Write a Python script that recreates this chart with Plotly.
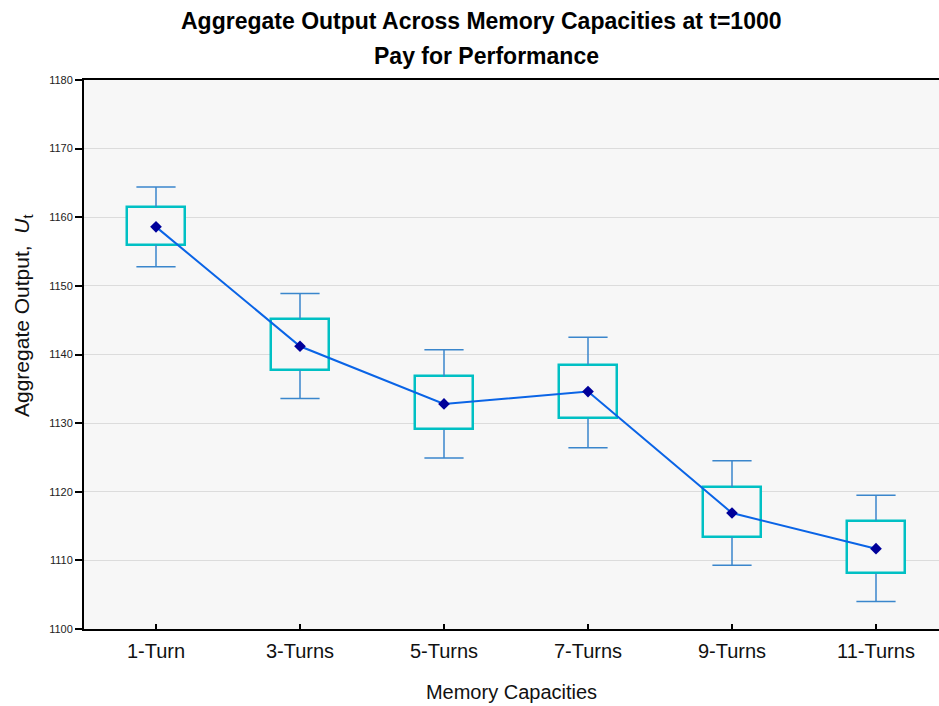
import plotly.graph_objects as go

categories = ["1-Turn", "3-Turns", "5-Turns", "7-Turns", "9-Turns", "11-Turns"]
means = [1158.6, 1141.2, 1132.8, 1134.6, 1116.9, 1111.7]
box_hi = [1161.5, 1145.2, 1136.8, 1138.5, 1120.7, 1115.8]
box_lo = [1156.0, 1137.7, 1129.1, 1130.7, 1113.4, 1108.1]
whisker_hi = [1164.4, 1148.9, 1140.7, 1142.5, 1124.5, 1119.5]
whisker_lo = [1152.8, 1133.6, 1124.9, 1126.4, 1109.3, 1104.0]
y_ticks = list(range(1100, 1181, 10))

FONT = "Liberation Sans, Arial, sans-serif"
BG = "#F7F7F7"
BOX_COL = "#00C0C4"
WHISK_COL = "#3A86CC"
LINE_COL = "#0A64E6"
MARK_COL = "#00009A"

PLOT_TOP, PLOT_BOTTOM, PLOT_LEFT, PLOT_W = 80, 629, 84, 855
PLOT_H = PLOT_BOTTOM - PLOT_TOP


def px_x(x):
    return (x - PLOT_LEFT) / PLOT_W


def px_y(y):
    return (PLOT_BOTTOM - y) / PLOT_H


fig = go.Figure()

# boxes (drawn as bars with base)
fig.add_trace(go.Bar(
    x=categories,
    y=[h - l for h, l in zip(box_hi, box_lo)],
    base=box_lo,
    width=0.4,
    marker=dict(color=BG, line=dict(color=BOX_COL, width=2.5)),
    showlegend=False, hoverinfo="skip",
))

# whisker stems
wx, wy = [], []
for c, wh, bh, bl, wl in zip(categories, whisker_hi, box_hi, box_lo, whisker_lo):
    wx += [c, c, None, c, c, None]
    wy += [wh, bh, None, bl, wl, None]
fig.add_trace(go.Scatter(
    x=wx, y=wy, mode="lines",
    line=dict(color=WHISK_COL, width=1.5),
    showlegend=False, hoverinfo="skip",
))

# whisker caps
fig.add_trace(go.Scatter(
    x=categories + categories, y=whisker_hi + whisker_lo, mode="markers",
    marker=dict(symbol="line-ew", size=28, line=dict(color=WHISK_COL, width=1.5)),
    showlegend=False, hoverinfo="skip",
))

# mean line
fig.add_trace(go.Scatter(
    x=categories, y=means, mode="lines+markers",
    line=dict(color=LINE_COL, width=2),
    marker=dict(symbol="diamond", size=9, color=MARK_COL),
    showlegend=False,
))

fig.update_layout(
    width=939, height=706,
    margin=dict(l=PLOT_LEFT, r=0, t=PLOT_TOP, b=706 - PLOT_BOTTOM),
    paper_bgcolor="white",
    plot_bgcolor=BG,
    font=dict(family=FONT, color="black"),
    xaxis=dict(
        type="category", range=[-0.5, 5.4375],
        showline=True, linecolor="black", linewidth=2, mirror=True,
        ticks="inside", ticklen=5, tickcolor="black", tickwidth=1.5,
        ticklabelstandoff=3,
        tickfont=dict(size=20, color="#111111"), showgrid=False,
        title=dict(text="Memory Capacities", font=dict(size=20, color="#111111"), standoff=24),
    ),
    yaxis=dict(
        range=[1100, 1180], tickvals=y_ticks,
        showline=True, linecolor="black", linewidth=2,
        ticks="outside", ticklen=7, tickcolor="black", tickwidth=1.5,
        tickfont=dict(size=11, color="#222222"),
        showgrid=True, gridcolor="#DCDCDC", gridwidth=1.2,
        zeroline=False,
    ),
    annotations=[
        dict(
            text="<b>Aggregate Output Across Memory Capacities at t=1000</b>",
            xref="paper", yref="paper", x=px_x(481), y=px_y(21),
            xanchor="center", yanchor="middle", showarrow=False,
            font=dict(size=23, family=FONT),
        ),
        dict(
            text="<b>Pay for Performance</b>",
            xref="paper", yref="paper", x=px_x(486), y=px_y(56),
            xanchor="center", yanchor="middle", showarrow=False,
            font=dict(size=23, family=FONT),
        ),
        dict(
            text="Aggregate Output,  <i>U</i><sub>t</sub>",
            xref="paper", yref="paper", x=px_x(23), y=px_y(316),
            xanchor="center", yanchor="middle",
            textangle=-90, showarrow=False,
            font=dict(size=21, family=FONT, color="#111111"),
        ),
    ],
    bargap=0,
)

fig.write_html("out.html")
